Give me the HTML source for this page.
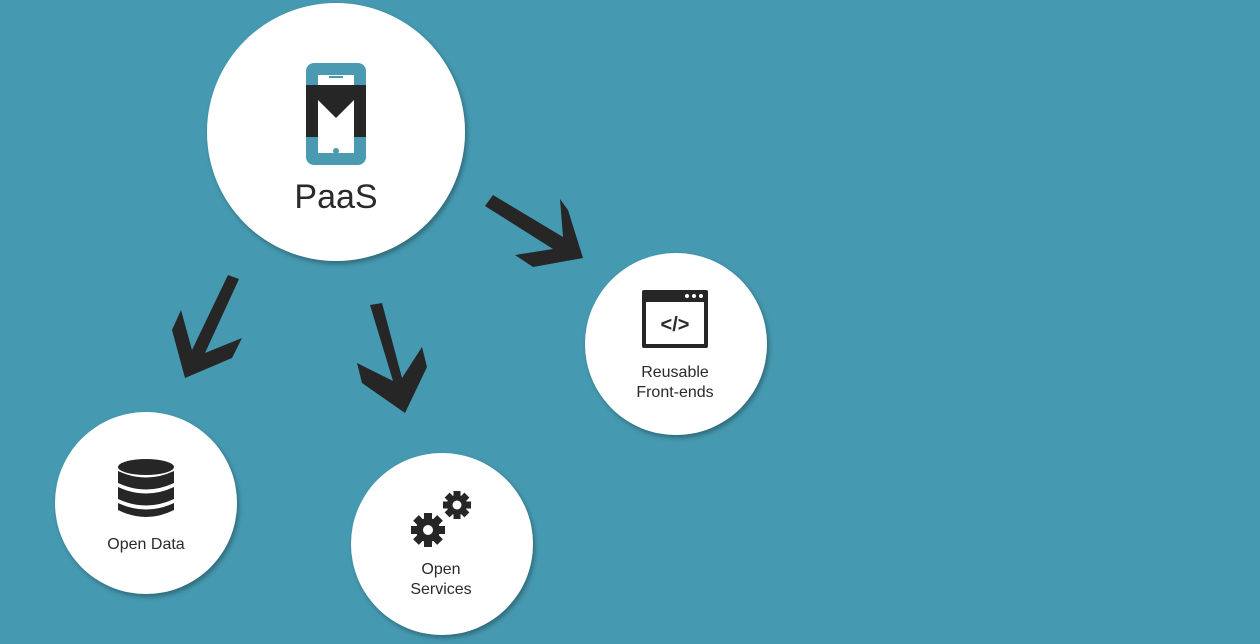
<!DOCTYPE html>
<html><head><meta charset="utf-8"><style>
html,body{margin:0;padding:0;background:#4599b0;}
svg{display:block}
text{font-family:"Liberation Sans",sans-serif;fill:#2a2a2a}
</style></head><body>
<svg width="1260" height="644" viewBox="0 0 1260 644" xmlns="http://www.w3.org/2000/svg">
<defs>
<filter id="sh" x="-20%" y="-20%" width="140%" height="140%"><feDropShadow dx="2" dy="3" stdDeviation="2.5" flood-color="#000" flood-opacity="0.3"/></filter>
</defs>
<rect width="1260" height="644" fill="#4599b0"/>
<g fill="#fff" filter="url(#sh)">
<circle cx="336" cy="132" r="129"/>
<circle cx="146" cy="503" r="91"/>
<circle cx="442" cy="544" r="91"/>
<circle cx="676" cy="344" r="91"/>
</g>
<g fill="#262626">
<polygon points="228,275 239,279 205,353 242,338 232,358 185,378 172,330 181,310 192,350"/>
<polygon points="370,305 382,303 402,378 422,347 427,367 405,413 362,383 357,363 393,381"/>
<polygon points="493,195 563,237 560,199 568,210 583,258 533,267 515,255 553,249 485,206"/>
</g>
<rect x="306" y="63" width="60" height="102" rx="8" fill="#4a9bb2"/>
<rect x="318" y="75" width="36" height="78" fill="#fff"/>
<rect x="329" y="76" width="14" height="2" fill="#4a9bb2"/>
<circle cx="336" cy="151" r="3" fill="#4a9bb2"/>
<polygon points="306,85 366,85 366,137 354,137 354,100 336,118 318,100 318,137 306,137" fill="#262626"/>
<text x="336" y="208" font-size="34" text-anchor="middle">PaaS</text>
<g fill="#262626">
<ellipse cx="146" cy="467" rx="28" ry="8"/>
<path d="M118,471 Q146,484 174,471 L174,483 Q146,496 118,483Z"/>
<path d="M118,487 Q146,500 174,487 L174,499 Q146,512 118,499Z"/>
<path d="M118,503 Q146,516 174,503 L174,510 Q146,524 118,510Z"/>
</g>
<text x="146" y="549" font-size="16" text-anchor="middle">Open Data</text>
<g fill="#262626">
<g transform="translate(428,530)">
<circle r="12"/>
<rect x="-4" y="-17" width="8" height="34"/><rect x="-4" y="-17" width="8" height="34" transform="rotate(45)"/><rect x="-4" y="-17" width="8" height="34" transform="rotate(90)"/><rect x="-4" y="-17" width="8" height="34" transform="rotate(135)"/>
<circle r="5" fill="#fff"/>
</g>
<g transform="translate(457,505)">
<circle r="10"/>
<rect x="-3.5" y="-14" width="7" height="28"/><rect x="-3.5" y="-14" width="7" height="28" transform="rotate(45)"/><rect x="-3.5" y="-14" width="7" height="28" transform="rotate(90)"/><rect x="-3.5" y="-14" width="7" height="28" transform="rotate(135)"/>
<circle r="4.5" fill="#fff"/>
</g>
</g>
<text x="441" y="574" font-size="16" text-anchor="middle">Open</text>
<text x="441" y="594" font-size="16" text-anchor="middle">Services</text>
<rect x="642" y="290" width="66" height="58" rx="2" fill="#262626"/>
<rect x="646" y="302" width="58" height="42" fill="#fff"/>
<circle cx="687" cy="296" r="2" fill="#fff"/><circle cx="694" cy="296" r="2" fill="#fff"/><circle cx="701" cy="296" r="2" fill="#fff"/>
<text x="675" y="331" font-size="20" font-weight="bold" text-anchor="middle">&lt;/&gt;</text>
<text x="675" y="377" font-size="16" text-anchor="middle">Reusable</text>
<text x="675" y="397" font-size="16" text-anchor="middle">Front-ends</text>
</svg>
</body></html>
